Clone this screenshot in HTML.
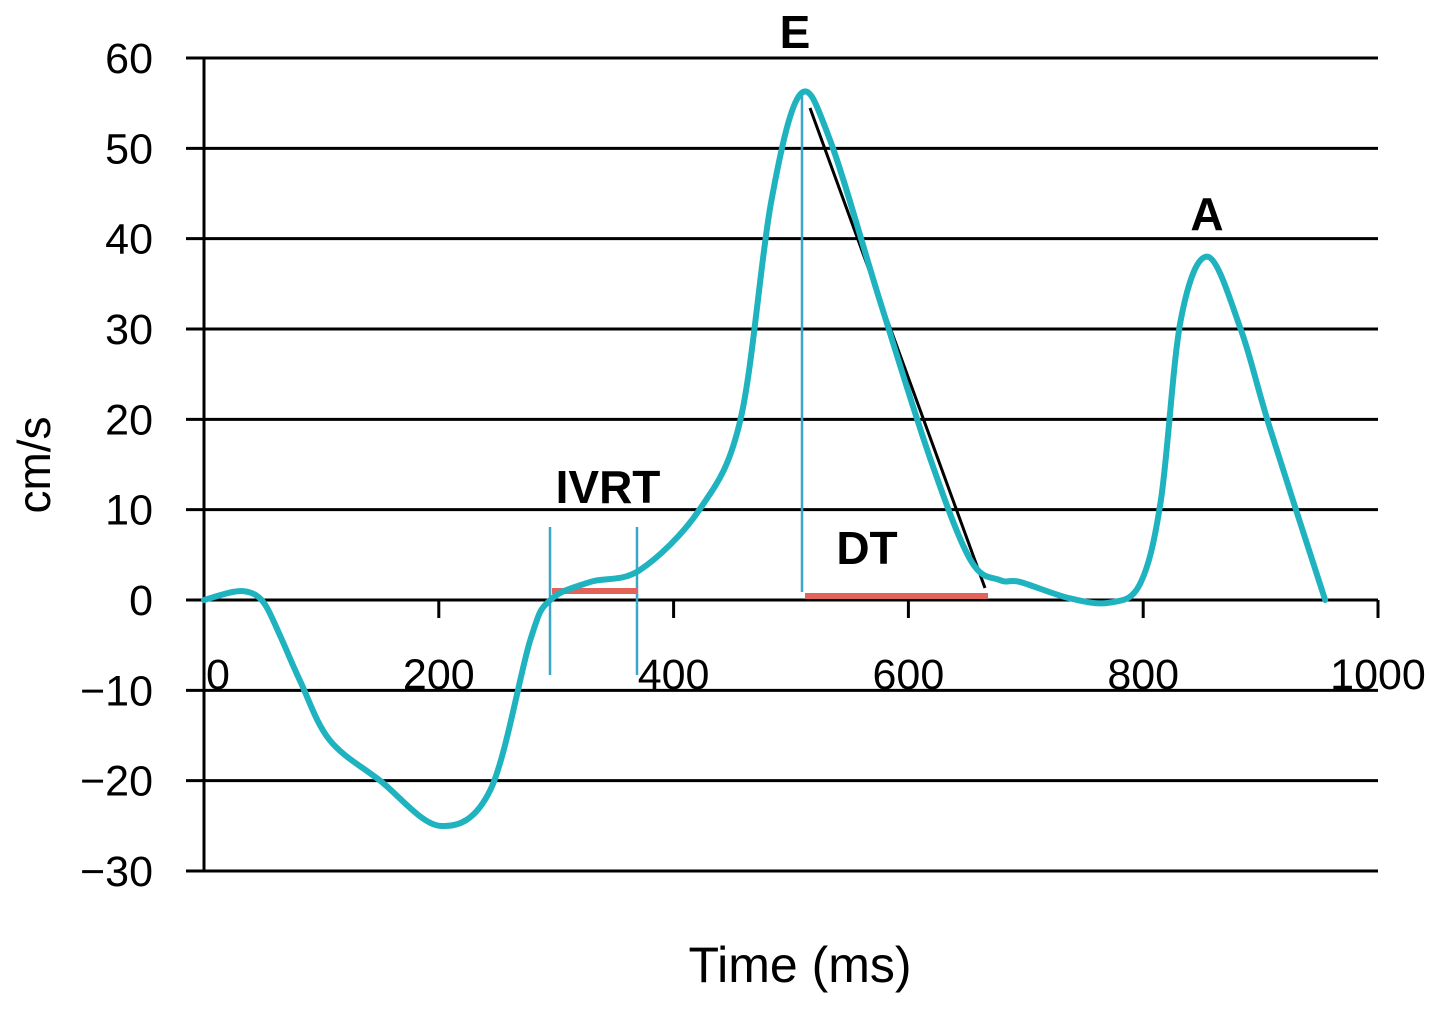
<!DOCTYPE html>
<html><head><meta charset="utf-8"><style>
html,body{margin:0;padding:0;background:#fff}
svg{display:block;font-family:"Liberation Sans",Arial,sans-serif}
</style></head><body>
<svg id="chart" width="1430" height="1010" viewBox="0 0 1430 1010" xmlns="http://www.w3.org/2000/svg">
<g id="grid"></g>
<g id="axes"></g>
<g id="marks"></g>
<path id="curve" fill="none" stroke="#1fb3c0" stroke-width="6" stroke-linejoin="round" stroke-linecap="round"/>
<text x="0" y="0" transform="translate(50,465) rotate(-90)" text-anchor="middle" font-size="46">cm/s</text>
<text x="800" y="982" text-anchor="middle" font-size="50">Time (ms)</text>
</svg>
<script>
const timesMs=[0,25,40,52,65,82,107,150,201,244,278,295,329,371,422,457,483,508,533,576,619,653,678,695,737,771,797,815,832,855,883,908,955];
const velocities=[0,0.9,0.8,-0.5,-4,-9,-15.5,-20,-25,-21,-4.4,0,2,3.3,10,20,44,56,51,33,15.5,4.4,2.2,2,0.2,-0.3,1.7,11,31,38,30,19,0];
const yTicks=[60,50,40,30,20,10,0,-10,-20,-30];
const xTicks=[0,200,400,600,800,1000];
const NS="http://www.w3.org/2000/svg";
const X=v=>204+v*1.174;
const Y=v=>600-v*9.033;
function mk(parent,tag,attrs){const e=document.createElementNS(NS,tag);for(const k in attrs)e.setAttribute(k,attrs[k]);document.getElementById(parent).appendChild(e);return e;}
yTicks.forEach(t=>{
  const g=mk('grid','line',{x1:186,x2:1378,y1:Y(t),y2:Y(t),stroke:'#000','stroke-width':3});
  
  
  const l=mk('axes','text',{x:153,y:Y(t)+15,'text-anchor':'end','font-size':43});
  
  
  l.textContent=t<0?'\u2212'+(-t):String(t);
});
const ax=mk('axes','line',{x1:204,x2:204,y1:Y(60),y2:Y(-30),stroke:'#000','stroke-width':3});


xTicks.forEach(t=>{
  const tk=mk('axes','line',{x1:X(t),x2:X(t),y1:600,y2:618,stroke:'#000','stroke-width':3});
  
  
  const l=mk('axes','text',{x:t===0?218:X(t),y:689,'text-anchor':'middle','font-size':43});
  
  
  l.textContent=String(t);
});
function ln(x1,y1,x2,y2,c,w,name){const e=mk('marks','line',{x1,y1,x2,y2,stroke:c,'stroke-width':w});
  
  }
ln(550,527,550,675,'#3aa6c8',2.5,'ivrt-start-line');
ln(637,527,637,675,'#3aa6c8',2.5,'ivrt-end-line');
ln(802,95,802,592,'#3aa6c8',2.5,'e-peak-line');
ln(552,591,637,591,'#e2635a',6,'ivrt-bar');
ln(805,596,988,596,'#e2635a',6,'dt-bar');
ln(810,108,985,588,'#000',3,'deceleration-slope');
function tx(x,y,s,name){const e=mk('marks','text',{x,y,'text-anchor':'middle','font-size':46,'font-weight':'bold'});
  
  
  e.textContent=s;}
tx(795,48,'E','e-wave-label');
tx(1207,230,'A','a-wave-label');
tx(608,503,'IVRT','ivrt-label');
tx(867,564,'DT','dt-label');
const pts=timesMs.map((t,i)=>[X(t),Y(velocities[i])]);
let d='M'+pts[0][0]+','+pts[0][1];
for(let i=0;i<pts.length-1;i++){
  const p0=pts[Math.max(0,i-1)],p1=pts[i],p2=pts[i+1],p3=pts[Math.min(pts.length-1,i+2)];
  const c1=[p1[0]+(p2[0]-p0[0])/6,p1[1]+(p2[1]-p0[1])/6];
  const c2=[p2[0]-(p3[0]-p1[0])/6,p2[1]-(p3[1]-p1[1])/6];
  d+=` C${c1[0]},${c1[1]} ${c2[0]},${c2[1]} ${p2[0]},${p2[1]}`;
}
document.getElementById('curve').setAttribute('d',d);
</script>
</body></html>
